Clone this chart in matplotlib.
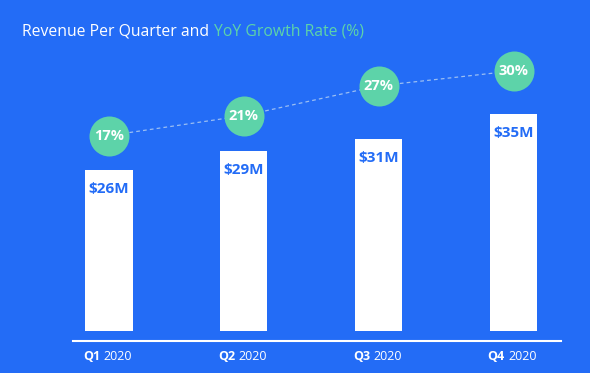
"""Revenue per quarter with YoY growth rate bubbles."""

import matplotlib

matplotlib.use("Agg")
import matplotlib.pyplot as plt
from matplotlib.offsetbox import AnnotationBbox, HPacker, TextArea

quarters = ["Q1", "Q2", "Q3", "Q4"]
year_label = "2020"
revenue_musd = [26, 29, 31, 35]
revenue_labels = ["$26M", "$29M", "$31M", "$35M"]
growth_pct = [17, 21, 27, 30]
growth_labels = ["17%", "21%", "27%", "30%"]

BLUE = "#236CF6"
MINT = "#5DD3A9"
WHITE = "#FFFFFF"
FONT = ["Open Sans", "DejaVu Sans"]


def main() -> None:
    plt.rcParams["font.family"] = FONT
    fig = plt.figure(figsize=(5.9, 3.73), dpi=100)
    fig.patch.set_facecolor(BLUE)

    W, H = 590, 373
    # axes spans the white baseline, bottom sits on it
    left_px, right_px, bottom_px, top_px = 73, 561, 341, 50
    ax = fig.add_axes([left_px / W, 1 - bottom_px / H,
                       (right_px - left_px) / W, (bottom_px - top_px) / H])
    ax.set_facecolor("none")

    px_per_unit = 6.2
    x = list(range(len(quarters)))
    ax.bar(x, revenue_musd, width=0.35, color=WHITE, zorder=2)
    ax.set_xlim(-0.267, 3.352)
    ax.set_ylim(-10 / px_per_unit, (bottom_px - top_px - 10) / px_per_unit)

    for xi, val, lab in zip(x, revenue_musd, revenue_labels):
        ax.annotate(lab, (xi, val), xytext=(0, -13.7), textcoords="offset points",
                    ha="center", va="center", color=BLUE, fontsize=11,
                    fontweight="bold", zorder=3)

    for side in ["left", "right", "top"]:
        ax.spines[side].set_visible(False)
    ax.spines["bottom"].set_color(WHITE)
    ax.spines["bottom"].set_linewidth(1.5)
    ax.set_yticks([])
    ax.set_xticks(x)
    ax.set_xticklabels([])
    ax.tick_params(axis="x", length=0)

    # category labels: bold quarter + regular year
    for xi, q in zip(x, quarters):
        box = HPacker(children=[
            TextArea(q, textprops=dict(color=WHITE, fontsize=9, fontweight="bold", family=FONT)),
            TextArea(year_label, textprops=dict(color=WHITE, fontsize=9, family=FONT)),
        ], align="baseline", pad=0, sep=2.5)
        ab = AnnotationBbox(box, (xi, 0), xycoords=ax.get_xaxis_transform(),
                            xybox=(-1, -11), boxcoords="offset points",
                            frameon=False, box_alignment=(0.5, 0.5))
        ax.add_artist(ab)

    # growth bubbles on a twin scale
    gx = ax.twinx()
    gx.set_ylim(-24.3, 34.2)
    gx.axis("off")
    gx.plot(x, growth_pct, color="#B9D3F2", linewidth=0.9, linestyle=(0, (3, 2.5)),
            alpha=0.8, zorder=1)
    gx.scatter(x, growth_pct, s=830, color=MINT, zorder=3, linewidths=0)
    for xi, val, lab in zip(x, growth_pct, growth_labels):
        gx.text(xi, val, lab, ha="center", va="center", color=WHITE,
                fontsize=10.5, fontweight="bold", zorder=4)

    # two-colour title
    title = HPacker(children=[
        TextArea("Revenue Per Quarter and", textprops=dict(color=WHITE, fontsize=11.3, family=FONT)),
        TextArea("YoY Growth Rate (%)", textprops=dict(color=MINT, fontsize=11.3, family=FONT)),
    ], align="baseline", pad=0, sep=3.5)
    fig.add_artist(AnnotationBbox(title, (22 / W, 1 - 31 / H), xycoords="figure fraction",
                                  frameon=False, box_alignment=(0, 0.5)))

    fig.savefig("out.png", dpi=100, facecolor=BLUE)
    plt.close(fig)


if __name__ == "__main__":
    main()
